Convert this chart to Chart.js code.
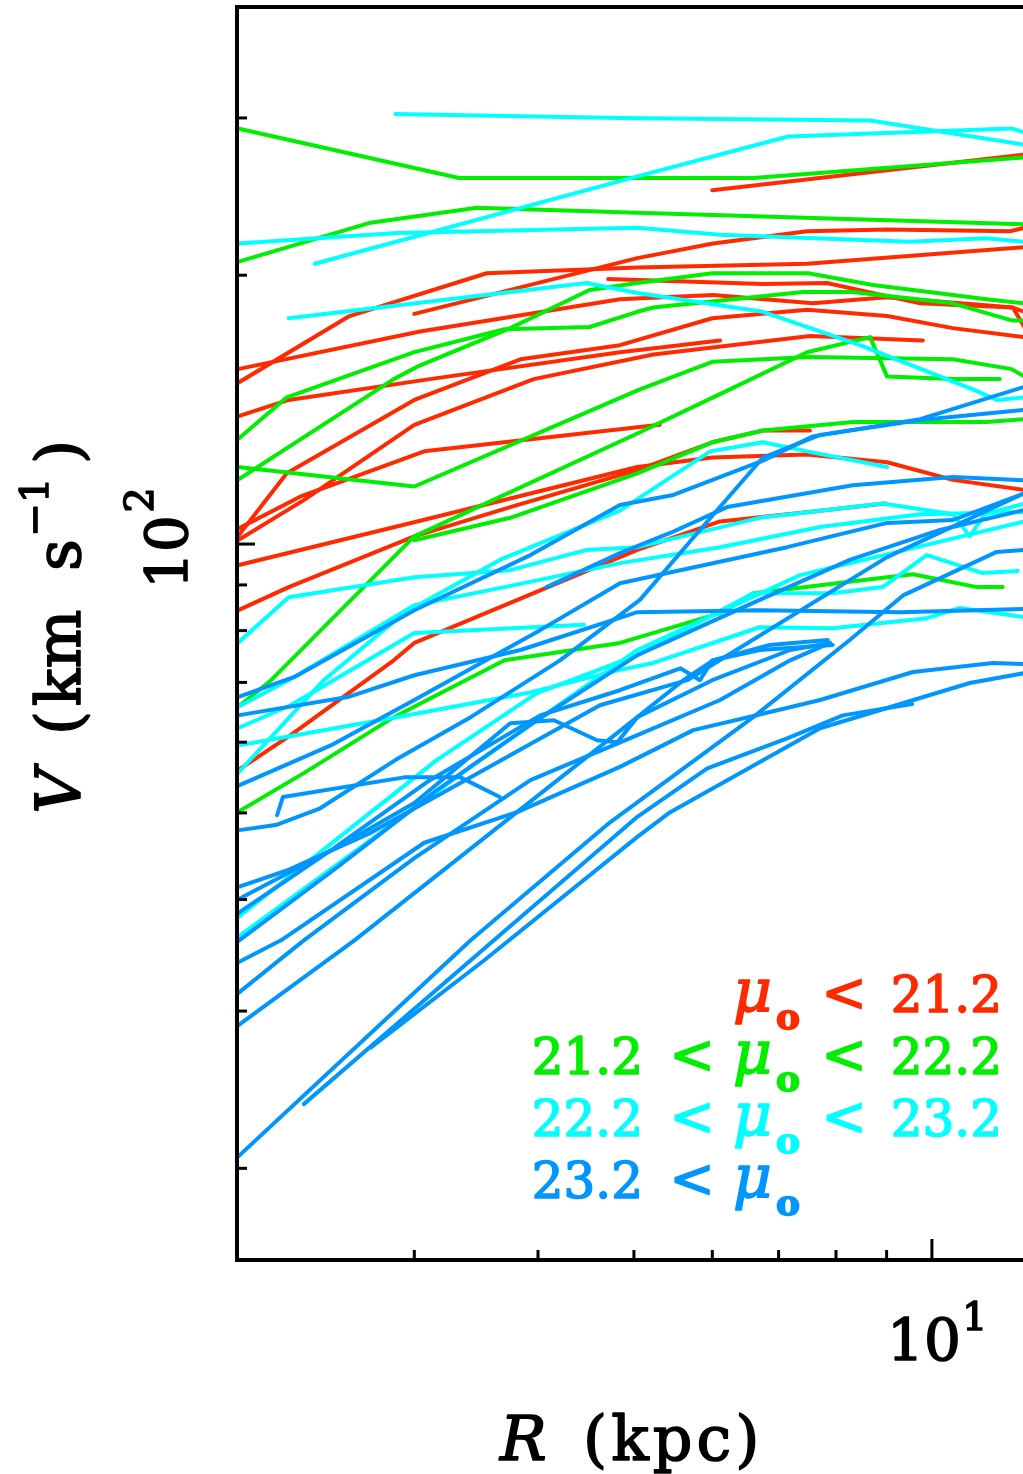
<!DOCTYPE html>
<html>
<head>
<meta charset="utf-8">
<script src="https://cdn.jsdelivr.net/npm/chart.js@4.4.0/dist/chart.umd.min.js"></script>
<style>
  html, body { margin: 0; padding: 0; background: #fff; overflow: hidden; }
  canvas { display: block; }
</style>
</head>
<body>
<canvas id="rc" width="1023" height="1474"></canvas>
<script>
// rotation curves: R in kpc, V in km/s, one row per galaxy
const redR = [
  [6.00, 12.4],
  [1.99, 2.58, 3.55, 5.04, 7.48, 12.4],
  [3.00, 5.04, 6.01, 7.48, 9.01, 11.99, 12.4],
  [4.71, 6.75, 7.83, 9.73, 12.07, 12.4],
  [1.99, 3.04, 4.84, 6.01, 7.58, 9.01, 12.07, 12.4],
  [1.99, 2.24, 3.11, 4.84, 6.11],
  [1.99, 2.23, 3.00, 3.84, 4.84, 6.00, 7.48, 9.01, 10.5, 12.4],
  [1.99, 2.32, 3.00, 3.96, 5.23, 7.53, 9.79],
  [1.99, 2.30, 3.07, 5.31],
  [1.99, 3.02, 5.04, 6.00, 7.48, 9.01, 10.5, 12.4],
  [1.99, 2.24, 3.00, 3.75, 5.04, 6.00, 6.75, 7.53],
  [1.99, 2.25, 2.86, 3.00, 5.04, 6.11, 7.71, 8.97]
];
const redV = [
  [249, 273],
  [151.5, 180, 201, 204, 206, 215],
  [181, 209, 217, 224, 225, 224, 226],
  [198, 195.5, 196, 186, 184, 175],
  [157, 173, 188, 190, 186, 189, 184, 182],
  [139, 145, 153, 164, 169],
  [102, 120, 145, 161, 167, 179, 183, 180, 174.5, 170.5],
  [101, 112, 136, 153, 163, 171, 169],
  [104, 113, 127, 136],
  [94.7, 106, 122, 125, 126, 123.5, 118, 115],
  [84.3, 89.5, 102, 110, 121, 130, 134, 134],
  [55.8, 61.1, 74.1, 77.5, 98.5, 106, 109, 111]
];

const greenR = [
  [1.99, 3.33, 6.60, 12.4],
  [1.99, 2.71, 3.47, 5.04, 12.4],
  [1.99, 2.23, 3.00, 3.70, 4.51, 5.04, 5.23, 7.41, 8.32, 10.5, 12.04, 12.4],
  [1.99, 2.86, 3.02, 3.75, 4.51, 5.04, 6.00, 7.50, 8.72, 11.36, 12.4],
  [1.99, 3.00, 5.07, 6.00, 7.50, 10.5, 12.04, 12.4],
  [1.99, 2.15, 3.00, 5.04, 6.25, 7.48, 8.66, 9.01, 10.5, 11.71],
  [3.00, 3.75, 5.04, 6.00, 6.75, 8.32, 11.36, 12.4],
  [1.99, 2.32, 2.86, 3.70, 4.84, 6.11, 6.60, 9.01, 9.57, 11.10, 11.79]
];
const greenV = [
  [292, 257, 257, 271],
  [207, 229, 238, 235, 228],
  [131, 146, 164, 174, 175, 182, 184, 191.5, 191.5, 186, 178, 178],
  [118, 153, 158, 174.5, 192.5, 196, 201, 201, 195, 188, 186],
  [122, 116, 149, 160, 162, 161, 157, 154],
  [65.7, 70.4, 102, 133, 149, 164, 170.5, 154, 153, 153],
  [101, 107, 120, 130, 134, 137, 137, 138],
  [50.1, 55.4, 64.0, 74.1, 77.5, 83.7, 88.1, 91.8, 92.5, 89.5, 89.5]
];

const cyanR = [
  [2.87, 4.84, 8.66, 12.4],
  [2.38, 5.04, 7.16, 12.04, 12.4],
  [1.99, 2.88, 5.04, 6.11, 9.50, 11.36, 12.4],
  [2.24, 4.48, 5.04, 6.75, 8.46, 11.00, 11.63, 12.4],
  [1.99, 2.24, 3.00, 3.75, 4.48, 5.04, 6.70, 8.92, 10.5, 10.92, 11.31, 12.4],
  [1.99, 2.27, 3.00, 3.70, 4.84, 6.11, 7.71, 9.73, 12.4],
  [1.99, 2.43, 2.93, 3.66, 4.84, 5.97, 6.75, 7.48, 9.01],
  [1.99, 2.25, 3.00, 4.45],
  [1.99, 2.88, 3.90, 4.84, 5.23, 6.70, 7.94, 9.88, 10.67, 12.4],
  [1.99, 3.16, 3.99, 5.04, 6.60, 7.94, 8.92, 9.88, 11.26, 12.21],
  [1.99, 3.42, 5.04, 7.36, 12.4]
];
const cyanV = [
  [303, 300, 298, 280],
  [206, 258, 286, 292, 289],
  [217, 223, 226, 222, 218, 220, 218],
  [179, 196, 191, 182, 167, 149, 145, 146],
  [77.5, 87.2, 91.8, 93.5, 98.5, 99.2, 107, 111, 108, 102, 108, 111],
  [65.7, 71.0, 85.4, 89.5, 95.2, 99.2, 104.5, 108, 108.6],
  [55.4, 70.4, 83.7, 96.0, 109, 127, 130, 127, 122],
  [62.2, 66.0, 79.5, 81.2],
  [59.5, 64.0, 68.1, 72.3, 73.6, 80.7, 80.5, 82.6, 84.8, 82.8],
  [38.2, 57.3, 68.1, 75.1, 88.1, 88.1, 89.5, 97.2, 92.8, 93.3],
  [36.3, 56.3, 76.1, 92.3, 106]
];

const blueR = [
  [1.99, 2.57, 3.00, 3.84, 5.04, 6.70, 9.28, 12.4],
  [1.99, 2.27, 3.00, 3.93, 4.84, 5.48, 6.75, 7.58, 9.73, 12.4],
  [1.99, 2.47, 3.00, 4.02, 4.84, 7.14, 9.01, 10.5, 12.4],
  [1.99, 2.18, 2.41, 2.87, 3.42, 4.21, 5.07, 5.83, 6.75, 7.71, 9.73, 12.4],
  [2.18, 2.21, 2.93, 3.34, 3.66],
  [1.99, 2.23, 2.71, 3.42, 4.62, 5.66, 9.01, 12.4],
  [1.99, 2.51, 3.00, 3.75, 4.15, 4.59, 4.81, 5.04, 5.61, 6.01, 6.70, 7.94],
  [1.99, 2.47, 3.11, 4.02, 4.84, 5.57, 5.83, 6.00, 6.86, 7.85],
  [1.99, 2.51, 3.16, 3.99, 5.04, 6.70, 8.26, 10.19, 12.4],
  [1.99, 2.20, 3.07, 3.81, 4.84, 5.74, 6.60, 7.71, 9.57, 11.52, 12.4],
  [1.99, 2.32, 3.00, 3.93, 5.04, 6.11, 7.19, 7.89],
  [1.99, 2.61, 5.04, 6.00, 7.19, 7.89],
  [4.08, 4.84, 5.44, 6.21, 8.32, 10.5, 12.4],
  [1.99, 3.42, 4.73, 6.60, 8.26, 9.35, 11.63, 12.4],
  [2.32, 3.61, 5.04, 5.93, 7.14, 8.13, 9.55],
  [2.71, 3.53, 5.04, 5.44, 7.71, 10.92, 12.4]
];
const blueV = [
  [64.3, 67.4, 71.3, 76.1, 83.9, 84.3, 83.9, 84.6],
  [67.4, 71.0, 84.3, 97.2, 110.6, 113.5, 124, 132, 138, 150],
  [53.6, 59.5, 66.9, 80.1, 90.4, 99.2, 105.6, 106.4, 114],
  [47.8, 48.5, 50.6, 57.3, 64.0, 74.1, 86.6, 103.7, 125, 132.5, 137.7, 141.3],
  [49.7, 52.1, 54.8, 54.8, 52.1],
  [41.3, 43.1, 47.5, 54.8, 66.0, 70.4, 96.7, 114],
  [40.0, 45.8, 51.3, 63.0, 63.5, 60.3, 60.0, 64.0, 70.4, 74.1, 76.1, 77.1],
  [38.6, 45.4, 54.4, 64.3, 68.6, 72.6, 70.4, 74.1, 77.1, 78.1],
  [35.9, 43.5, 53.0, 63.5, 75.1, 86.6, 96.0, 103.7, 109.2],
  [34.0, 36.0, 46.3, 50.1, 56.3, 61.9, 64.2, 66.9, 71.9, 73.6, 73.4],
  [31.4, 36.0, 44.5, 54.4, 61.1, 66.9, 74.1, 77.5],
  [28.9, 36.0, 64.0, 70.4, 76.1, 77.5],
  [89.5, 97.7, 102.9, 110.0, 116.4, 118.9, 117.9],
  [20.6, 36.0, 48.8, 64.0, 78.1, 87.6, 98.0, 98.5],
  [23.6, 36.0, 49.5, 56.1, 60.6, 64.3, 66.2],
  [27.3, 34.2, 47.0, 50.1, 62.2, 69.9, 71.7]
];

// axis ranges and tick marks
const rRange = [1.986, 12.36];
const vRange = [15.79, 401.4];
const rTicks = [3, 4, 5, 6, 7, 8, 9, 10];
const vTicks = [20, 30, 40, 50, 60, 70, 80, 90, 100, 200, 300];

// legend bins of central surface brightness
const binLow = [null, '21.2', '22.2', '23.2'];
const binHigh = ['21.2', '22.2', '23.2', null];

const RED = '#ff2a00', GREEN = '#00ee00', CYAN = '#00ffff', BLUE = '#0096ff';
const binColors = [RED, GREEN, CYAN, BLUE];
const FONT = '"DejaVu Serif", serif';

// first dataset ends up on top, so blue goes first
const groups = [
  { R: blueR, V: blueV, color: BLUE },
  { R: cyanR, V: cyanV, color: CYAN },
  { R: greenR, V: greenV, color: GREEN },
  { R: redR, V: redV, color: RED }
];

const datasets = [];
groups.forEach((g) => {
  g.R.forEach((row, i) => {
    datasets.push({
      data: row.map((r, j) => ({ x: r, y: g.V[i][j] })),
      borderColor: g.color,
      borderWidth: 4,
      pointRadius: 0,
      fill: false,
      tension: 0,
      borderCapStyle: 'round',
      borderJoinStyle: 'round'
    });
  });
});

// filled + lightly stroked, so the glyphs get the heavier plotter look
function ink(ctx, s, x, y) {
  ctx.lineWidth = 1.6;
  ctx.lineJoin = 'round';
  ctx.strokeStyle = ctx.fillStyle;
  ctx.fillText(s, x, y);
  ctx.strokeText(s, x, y);
}

function rotText(ctx, s, bx, cy, font) {
  ctx.save();
  ctx.translate(bx, cy);
  ctx.rotate(-Math.PI / 2);
  ctx.font = font;
  ctx.textAlign = 'center';
  ctx.textBaseline = 'alphabetic';
  ink(ctx, s, 0, 0);
  ctx.restore();
}

function text(ctx, s, x, y, font, align) {
  ctx.font = font;
  ctx.textAlign = align;
  ctx.textBaseline = 'alphabetic';
  ink(ctx, s, x, y);
}

const frame = {
  id: 'frame',
  afterDraw(chart) {
    const { ctx, chartArea: a, scales } = chart;
    const x = scales.x, y = scales.y;
    ctx.save();
    ctx.strokeStyle = '#000';
    ctx.fillStyle = '#000';

    // box (the right side falls off the page)
    ctx.lineWidth = 4;
    ctx.lineCap = 'square';
    ctx.beginPath();
    ctx.moveTo(a.right + 20, a.top + 2);
    ctx.lineTo(a.left, a.top + 2);
    ctx.lineTo(a.left, a.bottom);
    ctx.lineTo(a.right + 20, a.bottom);
    ctx.stroke();

    // inward ticks
    ctx.lineWidth = 3;
    ctx.lineCap = 'butt';
    rTicks.forEach((v) => {
      const px = x.getPixelForValue(v);
      const len = v === 10 ? 21 : 10;
      ctx.beginPath();
      ctx.moveTo(px, a.bottom);
      ctx.lineTo(px, a.bottom - len);
      ctx.stroke();
    });
    vTicks.forEach((v) => {
      const py = y.getPixelForValue(v);
      const len = v === 100 ? 18 : 10;
      ctx.beginPath();
      ctx.moveTo(a.left, py);
      ctx.lineTo(a.left + len, py);
      ctx.stroke();
    });

    // tick labels
    const px10 = x.getPixelForValue(10);
    text(ctx, '10', px10 - 8, 1360, '58px ' + FONT, 'center');
    text(ctx, '1', px10 + 30, 1330, '40px ' + FONT, 'left');
    const py100 = y.getPixelForValue(100);
    rotText(ctx, '10', 187, py100 + 8, '58px ' + FONT);
    rotText(ctx, '2', 153, py100 - 44, '40px ' + FONT);

    // axis titles
    text(ctx, 'R', 500, 1460, 'italic 62px ' + FONT, 'left');
    ctx.letterSpacing = '4px';
    text(ctx, '(kpc)', 583, 1460, '62px ' + FONT, 'left');
    ctx.letterSpacing = '0px';
    rotText(ctx, 'V', 80, 791, 'italic 62px ' + FONT);
    rotText(ctx, '(', 80, 723, '62px ' + FONT);
    rotText(ctx, 'km', 80, 658, '62px ' + FONT);
    rotText(ctx, 's', 80, 555, '62px ' + FONT);
    rotText(ctx, '\u22121', 48, 507, '40px ' + FONT);
    rotText(ctx, ')', 80, 452, '62px ' + FONT);

    // legend
    binColors.forEach((c, i) => {
      const base = 1012 + i * 62;
      ctx.fillStyle = c;
      if (binLow[i]) {
        text(ctx, binLow[i], 643, base, '50px ' + FONT, 'right');
        text(ctx, '<', 692, base - 1, '54px ' + FONT, 'center');
      }
      text(ctx, '\u03bc', 733, base, 'italic 60px ' + FONT, 'left');
      text(ctx, 'o', 776, base + 17, 'bold 36px ' + FONT, 'left');
      if (binHigh[i]) {
        text(ctx, '<', 844, base - 1, '54px ' + FONT, 'center');
        text(ctx, binHigh[i], 1002, base, '50px ' + FONT, 'right');
      }
    });
    ctx.restore();
  }
};

new Chart(document.getElementById('rc'), {
  type: 'line',
  data: { datasets },
  options: {
    responsive: false,
    devicePixelRatio: 1,
    animation: false,
    events: [],
    layout: { padding: { left: 237, top: 5, right: 0, bottom: 214 } },
    plugins: { legend: { display: false }, tooltip: { enabled: false } },
    scales: {
      x: { type: 'logarithmic', min: rRange[0], max: rRange[1], display: false },
      y: { type: 'logarithmic', min: vRange[0], max: vRange[1], display: false }
    }
  },
  plugins: [frame]
});
</script>
</body>
</html>
